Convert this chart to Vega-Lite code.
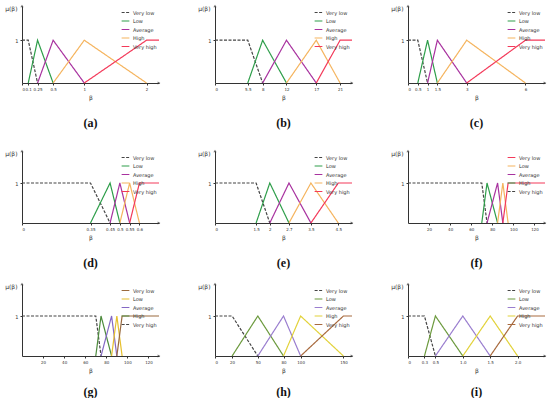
{
"$schema":"https://vega.github.io/schema/vega-lite/v6.json",
"padding":{"left":4,"top":4,"right":0,"bottom":0},
"data":{"values":[
{"p":"a","s":"Very low","x":0,"y":1},{"p":"a","s":"Very low","x":0.1,"y":1},{"p":"a","s":"Very low","x":0.25,"y":0},
{"p":"a","s":"Low","x":0.1,"y":0},{"p":"a","s":"Low","x":0.25,"y":1},{"p":"a","s":"Low","x":0.5,"y":0},
{"p":"a","s":"Average","x":0.25,"y":0},{"p":"a","s":"Average","x":0.5,"y":1},{"p":"a","s":"Average","x":1,"y":0},
{"p":"a","s":"High","x":0.5,"y":0},{"p":"a","s":"High","x":1,"y":1},{"p":"a","s":"High","x":2,"y":0},
{"p":"a","s":"Very high","x":1,"y":0},{"p":"a","s":"Very high","x":2,"y":1},{"p":"a","s":"Very high","x":2.2,"y":1},
{"p":"b","s":"Very low","x":0,"y":1},{"p":"b","s":"Very low","x":5.5,"y":1},{"p":"b","s":"Very low","x":8,"y":0},
{"p":"b","s":"Low","x":5.5,"y":0},{"p":"b","s":"Low","x":8,"y":1},{"p":"b","s":"Low","x":12,"y":0},
{"p":"b","s":"Average","x":8,"y":0},{"p":"b","s":"Average","x":12,"y":1},{"p":"b","s":"Average","x":17,"y":0},
{"p":"b","s":"High","x":12,"y":0},{"p":"b","s":"High","x":17,"y":1},{"p":"b","s":"High","x":21,"y":0},
{"p":"b","s":"Very high","x":17,"y":0},{"p":"b","s":"Very high","x":21,"y":1},{"p":"b","s":"Very high","x":23,"y":1},
{"p":"c","s":"Very low","x":0,"y":1},{"p":"c","s":"Very low","x":0.5,"y":1},{"p":"c","s":"Very low","x":1,"y":0},
{"p":"c","s":"Low","x":0.5,"y":0},{"p":"c","s":"Low","x":1,"y":1},{"p":"c","s":"Low","x":1.5,"y":0},
{"p":"c","s":"Average","x":1,"y":0},{"p":"c","s":"Average","x":1.5,"y":1},{"p":"c","s":"Average","x":3,"y":0},
{"p":"c","s":"High","x":1.5,"y":0},{"p":"c","s":"High","x":3,"y":1},{"p":"c","s":"High","x":6,"y":0},
{"p":"c","s":"Very high","x":3,"y":0},{"p":"c","s":"Very high","x":6,"y":1},{"p":"c","s":"Very high","x":7,"y":1},
{"p":"d","s":"Very low","x":0,"y":1},{"p":"d","s":"Very low","x":0.35,"y":1},{"p":"d","s":"Very low","x":0.45,"y":0},
{"p":"d","s":"Low","x":0.35,"y":0},{"p":"d","s":"Low","x":0.45,"y":1},{"p":"d","s":"Low","x":0.5,"y":0},
{"p":"d","s":"Average","x":0.45,"y":0},{"p":"d","s":"Average","x":0.5,"y":1},{"p":"d","s":"Average","x":0.55,"y":0},
{"p":"d","s":"High","x":0.5,"y":0},{"p":"d","s":"High","x":0.55,"y":1},{"p":"d","s":"High","x":0.6,"y":0},
{"p":"d","s":"Very high","x":0.55,"y":0},{"p":"d","s":"Very high","x":0.6,"y":1},{"p":"d","s":"Very high","x":0.7,"y":1},
{"p":"e","s":"Very low","x":0,"y":1},{"p":"e","s":"Very low","x":1.5,"y":1},{"p":"e","s":"Very low","x":2,"y":0},
{"p":"e","s":"Low","x":1.5,"y":0},{"p":"e","s":"Low","x":2,"y":1},{"p":"e","s":"Low","x":2.7,"y":0},
{"p":"e","s":"Average","x":2,"y":0},{"p":"e","s":"Average","x":2.7,"y":1},{"p":"e","s":"Average","x":3.5,"y":0},
{"p":"e","s":"High","x":2.7,"y":0},{"p":"e","s":"High","x":3.5,"y":1},{"p":"e","s":"High","x":4.5,"y":0},
{"p":"e","s":"Very high","x":3.5,"y":0},{"p":"e","s":"Very high","x":4.5,"y":1},{"p":"e","s":"Very high","x":5,"y":1},
{"p":"f","s":"Very high","x":0,"y":1},{"p":"f","s":"Very high","x":70,"y":1},{"p":"f","s":"Very high","x":75,"y":0},
{"p":"f","s":"High","x":70,"y":0},{"p":"f","s":"High","x":75,"y":1},{"p":"f","s":"High","x":85,"y":0},
{"p":"f","s":"Average","x":75,"y":0},{"p":"f","s":"Average","x":85,"y":1},{"p":"f","s":"Average","x":90,"y":0},
{"p":"f","s":"Low","x":85,"y":0},{"p":"f","s":"Low","x":90,"y":1},{"p":"f","s":"Low","x":95,"y":0},
{"p":"f","s":"Very low","x":90,"y":0},{"p":"f","s":"Very low","x":95,"y":1},{"p":"f","s":"Very low","x":130,"y":1},
{"p":"g","s":"Very high","x":0,"y":1},{"p":"g","s":"Very high","x":70,"y":1},{"p":"g","s":"Very high","x":75,"y":0},
{"p":"g","s":"High","x":70,"y":0},{"p":"g","s":"High","x":75,"y":1},{"p":"g","s":"High","x":85,"y":0},
{"p":"g","s":"Average","x":75,"y":0},{"p":"g","s":"Average","x":85,"y":1},{"p":"g","s":"Average","x":90,"y":0},
{"p":"g","s":"Low","x":85,"y":0},{"p":"g","s":"Low","x":90,"y":1},{"p":"g","s":"Low","x":95,"y":0},
{"p":"g","s":"Very low","x":90,"y":0},{"p":"g","s":"Very low","x":95,"y":1},{"p":"g","s":"Very low","x":130,"y":1},
{"p":"h","s":"Very low","x":0,"y":1},{"p":"h","s":"Very low","x":20,"y":1},{"p":"h","s":"Very low","x":50,"y":0},
{"p":"h","s":"Low","x":20,"y":0},{"p":"h","s":"Low","x":50,"y":1},{"p":"h","s":"Low","x":80,"y":0},
{"p":"h","s":"Average","x":50,"y":0},{"p":"h","s":"Average","x":80,"y":1},{"p":"h","s":"Average","x":100,"y":0},
{"p":"h","s":"High","x":80,"y":0},{"p":"h","s":"High","x":100,"y":1},{"p":"h","s":"High","x":150,"y":0},
{"p":"h","s":"Very high","x":100,"y":0},{"p":"h","s":"Very high","x":150,"y":1},{"p":"h","s":"Very high","x":160,"y":1},
{"p":"i","s":"Very low","x":0,"y":1},{"p":"i","s":"Very low","x":0.3,"y":1},{"p":"i","s":"Very low","x":0.5,"y":0},
{"p":"i","s":"Low","x":0.3,"y":0},{"p":"i","s":"Low","x":0.5,"y":1},{"p":"i","s":"Low","x":1,"y":0},
{"p":"i","s":"Average","x":0.5,"y":0},{"p":"i","s":"Average","x":1,"y":1},{"p":"i","s":"Average","x":1.5,"y":0},
{"p":"i","s":"High","x":1,"y":0},{"p":"i","s":"High","x":1.5,"y":1},{"p":"i","s":"High","x":2,"y":0},
{"p":"i","s":"Very high","x":1.5,"y":0},{"p":"i","s":"Very high","x":2,"y":1},{"p":"i","s":"Very high","x":2.5,"y":1}
]},
"config":{
 "view":{"stroke":null},
 "font":"DejaVu Sans",
 "axis":{"grid":false,"domainColor":"#333","domainWidth":1,"tickColor":"#333","tickSize":2,"labelFontSize":4,"labelColor":"#333","titleFontSize":6,"titleFontWeight":"normal","titleColor":"#333","labelPadding":2,"labelOverlap":false,"labelBound":false,"labelSeparation":0},
 "axisX":{"titlePadding":3,"labelExpr":"''+datum.value"},
 "axisY":{"titleAngle":0,"titleAnchor":"end","titleAlign":"right","titleBaseline":"middle","titleX":-5,"titleY":2,"labelFontSize":5},
 "legend":{"orient":"top-right","labelFontSize":5,"symbolType":"stroke","symbolSize":60,"symbolStrokeWidth":1.3,"rowPadding":0.5,"offset":2,"padding":0,"labelOffset":3,"labelColor":"#333"},
 "title":{"orient":"bottom","font":"Liberation Serif","fontSize":12,"fontWeight":"bold","color":"#111","offset":18,"frame":"group","anchor":"middle"},
 "point":{"filled":true,"size":10,"color":"#333"},
 "line":{"strokeWidth":1.2}
},
"resolve":{"scale":{"x":"independent","y":"independent","color":"independent","strokeDash":"independent"},"legend":{"color":"independent","strokeDash":"independent"}},
"spacing":20,
"vconcat":[
{"hconcat":[
 {"width":137,"height":77,"title":{"text":"(a)"},"layer":[
  {"transform":[{"filter":"datum.p==='a'"}],"mark":"line","encoding":{
   "x":{"field":"x","type":"quantitative","title":"β","scale":{"domain":[0,2.2],"nice":false},"axis":{"values":[0,0.1,0.25,0.5,1,2],"labelOverlap":false}},
   "y":{"field":"y","type":"quantitative","title":"μ(β)","scale":{"domain":[0,1.8],"nice":false},"axis":{"values":[1]}},
   "color":{"field":"s","type":"nominal","title":null,"scale":{"domain":["Very low","Low","Average","High","Very high"],"range":["#454545","#2e9e4a","#a8329f","#f5b45e","#f33a5a"]}},
   "strokeDash":{"field":"s","type":"nominal","title":null,"scale":{"domain":["Very low","Low","Average","High","Very high"],"range":[[3,1.5],[1,0],[1,0],[1,0],[1,0]]}}}},
  {"data":{"values":[{}]},"mark":{"type":"point","shape":"triangle-right"},"encoding":{"x":{"datum":2.2,"type":"quantitative","title":"β","axis":{"values":[0,0.1,0.25,0.5,1,2],"labelOverlap":false}},"y":{"datum":0,"type":"quantitative","title":"μ(β)","axis":{"values":[1]}}}},
  {"data":{"values":[{}]},"mark":{"type":"point","shape":"triangle-up"},"encoding":{"x":{"datum":0,"type":"quantitative","title":"β","axis":{"values":[0,0.1,0.25,0.5,1,2],"labelOverlap":false}},"y":{"datum":1.8,"type":"quantitative","title":"μ(β)","axis":{"values":[1]}}}}]},
 {"width":137,"height":77,"title":{"text":"(b)"},"layer":[
  {"transform":[{"filter":"datum.p==='b'"}],"mark":"line","encoding":{
   "x":{"field":"x","type":"quantitative","title":"β","scale":{"domain":[0,23],"nice":false},"axis":{"values":[0,5.5,8,12,17,21],"labelOverlap":false}},
   "y":{"field":"y","type":"quantitative","title":"μ(β)","scale":{"domain":[0,1.8],"nice":false},"axis":{"values":[1]}},
   "color":{"field":"s","type":"nominal","title":null,"scale":{"domain":["Very low","Low","Average","High","Very high"],"range":["#454545","#2e9e4a","#a8329f","#f5b45e","#f33a5a"]}},
   "strokeDash":{"field":"s","type":"nominal","title":null,"scale":{"domain":["Very low","Low","Average","High","Very high"],"range":[[3,1.5],[1,0],[1,0],[1,0],[1,0]]}}}},
  {"data":{"values":[{}]},"mark":{"type":"point","shape":"triangle-right"},"encoding":{"x":{"datum":23,"type":"quantitative","title":"β","axis":{"values":[0,5.5,8,12,17,21],"labelOverlap":false}},"y":{"datum":0,"type":"quantitative","title":"μ(β)","axis":{"values":[1]}}}},
  {"data":{"values":[{}]},"mark":{"type":"point","shape":"triangle-up"},"encoding":{"x":{"datum":0,"type":"quantitative","title":"β","axis":{"values":[0,5.5,8,12,17,21],"labelOverlap":false}},"y":{"datum":1.8,"type":"quantitative","title":"μ(β)","axis":{"values":[1]}}}}]},
 {"width":137,"height":77,"title":{"text":"(c)"},"layer":[
  {"transform":[{"filter":"datum.p==='c'"}],"mark":"line","encoding":{
   "x":{"field":"x","type":"quantitative","title":"β","scale":{"domain":[0,7],"nice":false},"axis":{"values":[0,0.5,1,1.5,3,6],"labelOverlap":false}},
   "y":{"field":"y","type":"quantitative","title":"μ(β)","scale":{"domain":[0,1.8],"nice":false},"axis":{"values":[1]}},
   "color":{"field":"s","type":"nominal","title":null,"scale":{"domain":["Very low","Low","Average","High","Very high"],"range":["#454545","#2e9e4a","#a8329f","#f5b45e","#f33a5a"]}},
   "strokeDash":{"field":"s","type":"nominal","title":null,"scale":{"domain":["Very low","Low","Average","High","Very high"],"range":[[3,1.5],[1,0],[1,0],[1,0],[1,0]]}}}},
  {"data":{"values":[{}]},"mark":{"type":"point","shape":"triangle-right"},"encoding":{"x":{"datum":7,"type":"quantitative","title":"β","axis":{"values":[0,0.5,1,1.5,3,6],"labelOverlap":false}},"y":{"datum":0,"type":"quantitative","title":"μ(β)","axis":{"values":[1]}}}},
  {"data":{"values":[{}]},"mark":{"type":"point","shape":"triangle-up"},"encoding":{"x":{"datum":0,"type":"quantitative","title":"β","axis":{"values":[0,0.5,1,1.5,3,6],"labelOverlap":false}},"y":{"datum":1.8,"type":"quantitative","title":"μ(β)","axis":{"values":[1]}}}}]}
],"spacing":35,"resolve":{"scale":{"x":"independent","y":"independent","color":"independent","strokeDash":"independent"},"legend":{"color":"independent","strokeDash":"independent"}}},
{"spacing":13,"resolve":{"scale":{"x":"independent","y":"independent","color":"independent","strokeDash":"independent"},"legend":{"color":"independent","strokeDash":"independent"}},"vconcat":[
{"hconcat":[
 {"width":137,"height":72,"title":{"text":"(d)"},"layer":[
  {"transform":[{"filter":"datum.p==='d'"}],"mark":"line","encoding":{
   "x":{"field":"x","type":"quantitative","title":"β","scale":{"domain":[0,0.7],"nice":false},"axis":{"values":[0,0.35,0.45,0.5,0.55,0.6],"labelOverlap":false}},
   "y":{"field":"y","type":"quantitative","title":"μ(β)","scale":{"domain":[0,1.8],"nice":false},"axis":{"values":[1]}},
   "color":{"field":"s","type":"nominal","title":null,"scale":{"domain":["Very low","Low","Average","High","Very high"],"range":["#454545","#2e9e4a","#a8329f","#f5b45e","#f33a5a"]}},
   "strokeDash":{"field":"s","type":"nominal","title":null,"scale":{"domain":["Very low","Low","Average","High","Very high"],"range":[[3,1.5],[1,0],[1,0],[1,0],[1,0]]}}}},
  {"data":{"values":[{}]},"mark":{"type":"point","shape":"triangle-right"},"encoding":{"x":{"datum":0.7,"type":"quantitative","title":"β","axis":{"values":[0,0.35,0.45,0.5,0.55,0.6],"labelOverlap":false}},"y":{"datum":0,"type":"quantitative","title":"μ(β)","axis":{"values":[1]}}}},
  {"data":{"values":[{}]},"mark":{"type":"point","shape":"triangle-up"},"encoding":{"x":{"datum":0,"type":"quantitative","title":"β","axis":{"values":[0,0.35,0.45,0.5,0.55,0.6],"labelOverlap":false}},"y":{"datum":1.8,"type":"quantitative","title":"μ(β)","axis":{"values":[1]}}}}]},
 {"width":137,"height":72,"title":{"text":"(e)"},"layer":[
  {"transform":[{"filter":"datum.p==='e'"}],"mark":"line","encoding":{
   "x":{"field":"x","type":"quantitative","title":"β","scale":{"domain":[0,5],"nice":false},"axis":{"values":[0,1.5,2,2.7,3.5,4.5],"labelOverlap":false}},
   "y":{"field":"y","type":"quantitative","title":"μ(β)","scale":{"domain":[0,1.8],"nice":false},"axis":{"values":[1]}},
   "color":{"field":"s","type":"nominal","title":null,"scale":{"domain":["Very low","Low","Average","High","Very high"],"range":["#454545","#2e9e4a","#a8329f","#f5b45e","#f33a5a"]}},
   "strokeDash":{"field":"s","type":"nominal","title":null,"scale":{"domain":["Very low","Low","Average","High","Very high"],"range":[[3,1.5],[1,0],[1,0],[1,0],[1,0]]}}}},
  {"data":{"values":[{}]},"mark":{"type":"point","shape":"triangle-right"},"encoding":{"x":{"datum":5,"type":"quantitative","title":"β","axis":{"values":[0,1.5,2,2.7,3.5,4.5],"labelOverlap":false}},"y":{"datum":0,"type":"quantitative","title":"μ(β)","axis":{"values":[1]}}}},
  {"data":{"values":[{}]},"mark":{"type":"point","shape":"triangle-up"},"encoding":{"x":{"datum":0,"type":"quantitative","title":"β","axis":{"values":[0,1.5,2,2.7,3.5,4.5],"labelOverlap":false}},"y":{"datum":1.8,"type":"quantitative","title":"μ(β)","axis":{"values":[1]}}}}]},
 {"width":137,"height":72,"title":{"text":"(f)"},"layer":[
  {"transform":[{"filter":"datum.p==='f'"}],"mark":"line","encoding":{
   "x":{"field":"x","type":"quantitative","title":"β","scale":{"domain":[0,130],"nice":false},"axis":{"values":[20,40,60,80,100,120],"labelOverlap":false}},
   "y":{"field":"y","type":"quantitative","title":"μ(β)","scale":{"domain":[0,1.8],"nice":false},"axis":{"values":[1]}},
   "color":{"field":"s","type":"nominal","title":null,"scale":{"domain":["Very low","Low","Average","High","Very high"],"range":["#f33a5a","#f5b45e","#a8329f","#2e9e4a","#454545"]}},
   "strokeDash":{"field":"s","type":"nominal","title":null,"scale":{"domain":["Very low","Low","Average","High","Very high"],"range":[[1,0],[1,0],[1,0],[1,0],[3,1.5]]}}}},
  {"data":{"values":[{}]},"mark":{"type":"point","shape":"triangle-right"},"encoding":{"x":{"datum":130,"type":"quantitative","title":"β","axis":{"values":[20,40,60,80,100,120],"labelOverlap":false}},"y":{"datum":0,"type":"quantitative","title":"μ(β)","axis":{"values":[1]}}}},
  {"data":{"values":[{}]},"mark":{"type":"point","shape":"triangle-up"},"encoding":{"x":{"datum":0,"type":"quantitative","title":"β","axis":{"values":[20,40,60,80,100,120],"labelOverlap":false}},"y":{"datum":1.8,"type":"quantitative","title":"μ(β)","axis":{"values":[1]}}}}]}
],"spacing":35,"resolve":{"scale":{"x":"independent","y":"independent","color":"independent","strokeDash":"independent"},"legend":{"color":"independent","strokeDash":"independent"}}},
{"hconcat":[
 {"width":137,"height":72,"title":{"text":"(g)","offset":14},"layer":[
  {"transform":[{"filter":"datum.p==='g'"}],"mark":"line","encoding":{
   "x":{"field":"x","type":"quantitative","title":"β","scale":{"domain":[0,130],"nice":false},"axis":{"values":[20,40,60,80,100,120],"labelOverlap":false}},
   "y":{"field":"y","type":"quantitative","title":"μ(β)","scale":{"domain":[0,1.8],"nice":false},"axis":{"values":[1]}},
   "color":{"field":"s","type":"nominal","title":null,"scale":{"domain":["Very low","Low","Average","High","Very high"],"range":["#9a6a3e","#e6c02e","#8468c4","#4c8a3c","#454545"]}},
   "strokeDash":{"field":"s","type":"nominal","title":null,"scale":{"domain":["Very low","Low","Average","High","Very high"],"range":[[1,0],[1,0],[1,0],[1,0],[3,1.5]]}}}},
  {"data":{"values":[{}]},"mark":{"type":"point","shape":"triangle-right"},"encoding":{"x":{"datum":130,"type":"quantitative","title":"β","axis":{"values":[20,40,60,80,100,120],"labelOverlap":false}},"y":{"datum":0,"type":"quantitative","title":"μ(β)","axis":{"values":[1]}}}},
  {"data":{"values":[{}]},"mark":{"type":"point","shape":"triangle-up"},"encoding":{"x":{"datum":0,"type":"quantitative","title":"β","axis":{"values":[20,40,60,80,100,120],"labelOverlap":false}},"y":{"datum":1.8,"type":"quantitative","title":"μ(β)","axis":{"values":[1]}}}}]},
 {"width":137,"height":72,"title":{"text":"(h)","offset":14},"layer":[
  {"transform":[{"filter":"datum.p==='h'"}],"mark":"line","encoding":{
   "x":{"field":"x","type":"quantitative","title":"β","scale":{"domain":[0,160],"nice":false},"axis":{"values":[0,20,50,80,100,150],"labelOverlap":false}},
   "y":{"field":"y","type":"quantitative","title":"μ(β)","scale":{"domain":[0,1.8],"nice":false},"axis":{"values":[1]}},
   "color":{"field":"s","type":"nominal","title":null,"scale":{"domain":["Very low","Low","Average","High","Very high"],"range":["#454545","#6c9a3e","#9a7ecf","#e2d23a","#a86a3e"]}},
   "strokeDash":{"field":"s","type":"nominal","title":null,"scale":{"domain":["Very low","Low","Average","High","Very high"],"range":[[3,1.5],[1,0],[1,0],[1,0],[1,0]]}}}},
  {"data":{"values":[{}]},"mark":{"type":"point","shape":"triangle-right"},"encoding":{"x":{"datum":160,"type":"quantitative","title":"β","axis":{"values":[0,20,50,80,100,150],"labelOverlap":false}},"y":{"datum":0,"type":"quantitative","title":"μ(β)","axis":{"values":[1]}}}},
  {"data":{"values":[{}]},"mark":{"type":"point","shape":"triangle-up"},"encoding":{"x":{"datum":0,"type":"quantitative","title":"β","axis":{"values":[0,20,50,80,100,150],"labelOverlap":false}},"y":{"datum":1.8,"type":"quantitative","title":"μ(β)","axis":{"values":[1]}}}}]},
 {"width":137,"height":72,"title":{"text":"(i)","offset":14},"layer":[
  {"transform":[{"filter":"datum.p==='i'"}],"mark":"line","encoding":{
   "x":{"field":"x","type":"quantitative","title":"β","scale":{"domain":[0,2.5],"nice":false},"axis":{"values":[0,0.3,0.5,1,1.5,2],"labelOverlap":false,"labelExpr":"datum.value===0?'0':format(datum.value,'.1f')"}},
   "y":{"field":"y","type":"quantitative","title":"μ(β)","scale":{"domain":[0,1.8],"nice":false},"axis":{"values":[1]}},
   "color":{"field":"s","type":"nominal","title":null,"scale":{"domain":["Very low","Low","Average","High","Very high"],"range":["#454545","#6c9a3e","#9a7ecf","#e2d23a","#a86a3e"]}},
   "strokeDash":{"field":"s","type":"nominal","title":null,"scale":{"domain":["Very low","Low","Average","High","Very high"],"range":[[3,1.5],[1,0],[1,0],[1,0],[1,0]]}}}},
  {"data":{"values":[{}]},"mark":{"type":"point","shape":"triangle-right"},"encoding":{"x":{"datum":2.5,"type":"quantitative","title":"β","axis":{"values":[0,0.3,0.5,1,1.5,2],"labelOverlap":false,"labelExpr":"datum.value===0?'0':format(datum.value,'.1f')"}},"y":{"datum":0,"type":"quantitative","title":"μ(β)","axis":{"values":[1]}}}},
  {"data":{"values":[{}]},"mark":{"type":"point","shape":"triangle-up"},"encoding":{"x":{"datum":0,"type":"quantitative","title":"β","axis":{"values":[0,0.3,0.5,1,1.5,2],"labelOverlap":false,"labelExpr":"datum.value===0?'0':format(datum.value,'.1f')"}},"y":{"datum":1.8,"type":"quantitative","title":"μ(β)","axis":{"values":[1]}}}}]}
],"spacing":35,"resolve":{"scale":{"x":"independent","y":"independent","color":"independent","strokeDash":"independent"},"legend":{"color":"independent","strokeDash":"independent"}}}
]}
]
}
